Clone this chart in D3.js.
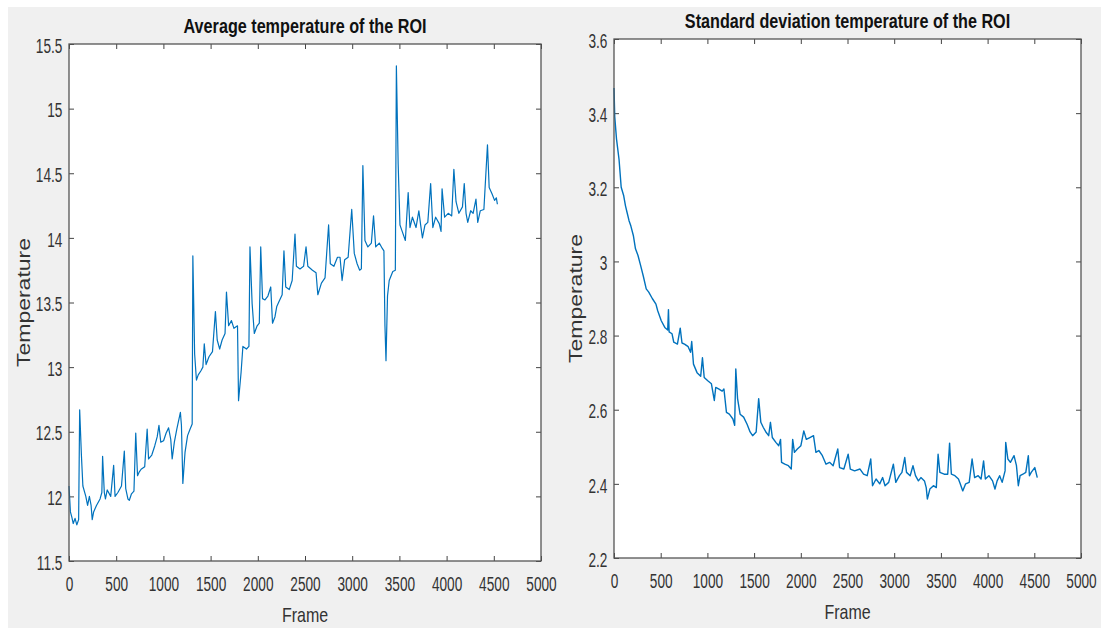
<!DOCTYPE html>
<html>
<head>
<meta charset="utf-8">
<script src="https://cdn.jsdelivr.net/npm/d3@7"></script>
<style>
  html, body { margin: 0; padding: 0; background: #ffffff; }
  svg { display: block; }
  .tick text { font-family: "Liberation Sans", Arial, sans-serif; font-size: 19.5px; fill: #333333; }
</style>
</head>
<body>
<svg id="chart" width="1101" height="628"></svg>
<script>
// ---------- Data ----------
const frameTicks = [0, 500, 1000, 1500, 2000, 2500, 3000, 3500, 4000, 4500, 5000];
const avgTicks = [11.5, 12, 12.5, 13, 13.5, 14, 14.5, 15, 15.5];
const stdTicks = [2.2, 2.4, 2.6, 2.8, 3, 3.2, 3.4, 3.6];

const avgFrames = [0,15,30,45,64,83,102,113,132,147,178,197,216,234,246,261,291,329,348,356,374,386,405,442,473,488,518,556,586,601,624,639,662,688,707,726,745,764,802,828,843,877,908,934,953,972,1002,1029,1055,1078,1093,1116,1142,1180,1191,1206,1229,1256,1282,1305,1312,1331,1350,1369,1396,1418,1433,1452,1483,1520,1551,1570,1596,1622,1653,1668,1691,1721,1747,1785,1796,1823,1842,1880,1906,1917,1940,1963,1993,2016,2031,2050,2076,2107,2137,2156,2182,2201,2220,2258,2277,2296,2333,2364,2394,2409,2447,2485,2511,2530,2579,2617,2636,2674,2712,2750,2768,2806,2844,2871,2893,2920,2957,2995,3022,3052,3079,3097,3113,3135,3166,3203,3226,3249,3287,3317,3336,3347,3358,3374,3392,3430,3457,3468,3487,3506,3525,3563,3593,3612,3638,3676,3706,3725,3744,3771,3801,3831,3854,3884,3922,3941,3952,3979,4017,4054,4077,4100,4130,4168,4187,4206,4224,4255,4281,4311,4330,4357,4395,4433,4451,4482,4508,4527,4538];
const avgValues = [12.08,11.88,11.84,11.79,11.83,11.78,11.82,12.67,12.31,12.08,12.0,11.93,12.0,11.93,11.82,11.88,11.93,11.98,12.03,12.31,12.03,11.98,12.05,12.0,12.24,12.0,12.03,12.08,12.35,12.06,11.98,11.97,12.02,12.04,12.49,12.16,12.19,12.21,12.23,12.52,12.29,12.32,12.39,12.46,12.55,12.42,12.43,12.49,12.53,12.44,12.29,12.42,12.52,12.65,12.55,12.1,12.34,12.47,12.52,12.56,13.86,13.1,12.9,12.94,12.97,13.0,13.18,13.02,13.08,13.12,13.43,13.21,13.14,13.21,13.26,13.58,13.32,13.36,13.3,13.32,12.74,12.96,13.16,13.14,13.16,13.93,13.49,13.26,13.32,13.34,13.93,13.53,13.52,13.55,13.62,13.34,13.39,13.47,13.5,13.56,13.9,13.62,13.6,13.67,14.03,13.78,13.76,13.78,13.93,13.78,13.75,13.73,13.56,13.65,13.69,14.1,13.8,13.78,13.85,13.85,13.67,13.83,13.85,14.22,13.88,13.8,13.75,13.76,14.56,13.98,13.93,13.96,14.17,13.93,13.96,13.92,13.9,13.32,13.05,13.55,13.67,13.74,13.75,15.33,14.57,14.1,14.06,13.98,14.35,14.08,14.16,14.08,14.21,14.1,14.0,14.1,14.12,14.42,14.08,14.16,14.11,14.05,14.38,14.16,14.19,14.17,14.53,14.28,14.19,14.24,14.42,14.19,14.12,14.21,14.19,14.3,14.12,14.21,14.22,14.72,14.39,14.34,14.29,14.31,14.26];

const stdFrames = [0,8,27,54,77,104,123,142,161,180,207,230,257,284,314,345,372,410,449,468,506,544,575,583,590,621,640,679,709,728,755,794,820,832,851,889,928,947,966,1004,1043,1074,1089,1120,1158,1177,1204,1235,1273,1292,1304,1323,1350,1388,1426,1457,1484,1522,1549,1572,1599,1626,1656,1675,1695,1733,1764,1783,1794,1829,1867,1898,1913,1932,1963,2001,2032,2059,2097,2136,2162,2193,2231,2270,2308,2346,2396,2415,2461,2507,2530,2576,2634,2672,2711,2749,2768,2806,2845,2876,2902,2941,2991,3017,3056,3083,3113,3132,3171,3201,3228,3259,3286,3324,3343,3355,3382,3420,3451,3470,3489,3535,3573,3593,3612,3650,3688,3707,3734,3765,3803,3834,3861,3899,3930,3957,3976,4014,4053,4079,4102,4129,4156,4187,4194,4217,4244,4283,4309,4329,4348,4378,4409,4436,4448,4467,4505,4532];
const stdValues = [3.468,3.39,3.33,3.275,3.20,3.177,3.15,3.13,3.11,3.096,3.07,3.034,3.016,2.99,2.96,2.926,2.917,2.9,2.885,2.867,2.84,2.822,2.815,2.87,2.81,2.805,2.782,2.777,2.82,2.78,2.777,2.77,2.755,2.784,2.723,2.70,2.69,2.74,2.687,2.678,2.67,2.625,2.66,2.656,2.65,2.656,2.593,2.588,2.575,2.558,2.71,2.63,2.588,2.58,2.56,2.54,2.53,2.54,2.63,2.566,2.552,2.54,2.53,2.566,2.525,2.512,2.503,2.52,2.458,2.453,2.449,2.44,2.52,2.485,2.494,2.503,2.543,2.52,2.525,2.53,2.485,2.49,2.476,2.453,2.458,2.449,2.494,2.444,2.44,2.48,2.44,2.435,2.44,2.426,2.422,2.467,2.395,2.413,2.40,2.417,2.395,2.404,2.453,2.404,2.422,2.431,2.471,2.431,2.422,2.449,2.422,2.408,2.417,2.408,2.39,2.359,2.386,2.395,2.39,2.48,2.431,2.426,2.426,2.51,2.426,2.422,2.413,2.40,2.381,2.40,2.404,2.467,2.417,2.422,2.413,2.462,2.413,2.422,2.408,2.386,2.408,2.422,2.404,2.435,2.512,2.467,2.458,2.476,2.449,2.395,2.422,2.426,2.431,2.476,2.422,2.431,2.444,2.417];

// ---------- Drawing ----------
const svg = d3.select("#chart");
svg.append("rect").attr("x", 8).attr("y", 7).attr("width", 1093).attr("height", 621).attr("fill", "#f0f0f0");

const fontFam = '"Liberation Sans", Arial, sans-serif';
const squeeze = 0.7;

function panel(cfg) {
  const { left, right, top, bottom, frames, values, yDomain, yTicks, title, titleY, ylabX, lineW } = cfg;
  const x = d3.scaleLinear().domain([0, 5000]).range([left, right]);
  const y = d3.scaleLinear().domain(yDomain).range([bottom, top]);
  const g = svg.append("g");

  g.append("rect").attr("x", left).attr("y", top).attr("width", right - left).attr("height", bottom - top)
    .attr("fill", "#ffffff");

  const fmt = d => String(d);
  const axB = g.append("g").attr("transform", `translate(0,${bottom})`)
    .call(d3.axisBottom(x).tickValues(frameTicks).tickFormat(fmt).tickSizeInner(-5).tickSizeOuter(0).tickPadding(16));
  const axT = g.append("g").attr("transform", `translate(0,${top})`)
    .call(d3.axisTop(x).tickValues(frameTicks).tickFormat("").tickSizeInner(-5).tickSizeOuter(0));
  const axL = g.append("g").attr("transform", `translate(${left},0)`)
    .call(d3.axisLeft(y).tickValues(yTicks).tickFormat(fmt).tickSizeInner(-5).tickSizeOuter(0).tickPadding(9.5));
  const axR = g.append("g").attr("transform", `translate(${right},0)`)
    .call(d3.axisRight(y).tickValues(yTicks).tickFormat("").tickSizeInner(-5).tickSizeOuter(0));
  [axB, axT, axL, axR].forEach(a => {
    a.select(".domain").remove();
    a.selectAll(".tick line").attr("stroke", "#444").attr("stroke-width", 1);
  });
  axL.selectAll(".tick text").attr("dy", "0.42em").attr("transform", `scale(${squeeze},1)`);
  axB.selectAll(".tick text").attr("transform", `scale(${squeeze},1)`);

  const line = d3.line().x((d, i) => x(frames[i])).y((d, i) => y(values[i]));
  g.append("path").datum(values).attr("d", line).attr("fill", "none")
    .attr("stroke", "#0072BD").attr("stroke-width", lineW).attr("stroke-linejoin", "round");

  g.append("rect").attr("x", left).attr("y", top).attr("width", right - left).attr("height", bottom - top)
    .attr("fill", "none").attr("stroke", "#555").attr("stroke-width", 1.3);

  g.append("text").attr("transform", `translate(${(left + right) / 2},${titleY}) scale(0.83,1)`)
    .attr("text-anchor", "middle")
    .attr("font-family", fontFam).attr("font-weight", "bold").attr("font-size", 19.5).attr("fill", "#111")
    .text(title);

  g.append("text").attr("transform", `translate(${(left + right) / 2},${bottom + 61}) scale(0.78,1)`)
    .attr("text-anchor", "middle")
    .attr("font-family", fontFam).attr("font-size", 20.5).attr("fill", "#333").text("Frame");

  g.append("text").attr("transform", `translate(${ylabX},${(top + bottom) / 2}) scale(0.8,1) rotate(-90)`)
    .attr("text-anchor", "middle").attr("font-family", fontFam)
    .attr("font-size", 23).attr("fill", "#333").text("Temperature");
}

panel({ left: 69, right: 541, top: 44, bottom: 561, frames: avgFrames, values: avgValues,
  yDomain: [11.5, 15.5], yTicks: avgTicks, title: "Average temperature of the ROI", titleY: 33, ylabX: 30, lineW: 1.2 });
panel({ left: 614, right: 1081, top: 39, bottom: 558, frames: stdFrames, values: stdValues,
  yDomain: [2.2, 3.6], yTicks: stdTicks, title: "Standard deviation temperature of the ROI", titleY: 28, ylabX: 582, lineW: 1.4 });
</script>
</body>
</html>
